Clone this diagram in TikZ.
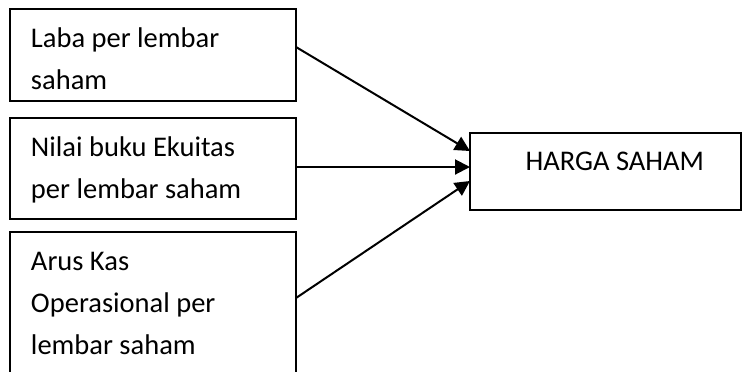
\documentclass[tikz,border=0pt]{standalone}
\usepackage{fontspec}
\setmainfont{Carlito}
\usetikzlibrary{positioning,arrows.meta}

\begin{document}
\begin{tikzpicture}[
  node distance=8.5pt,
  factor/.style={draw, line width=1pt, outer sep=0pt, inner xsep=10.5pt,
                 inner ysep=0pt, text width=122pt, align=flush left, text height=19pt,
                 font=\fontsize{14.25pt}{21pt}\selectfont},
  result/.style={factor, text width=98.5pt, inner xsep=18.5pt, align=flush right},
  arr/.style={-{Triangle[length=7.5pt, width=7.5pt]}, line width=1pt}
]
  \useasboundingbox (0,0) rectangle (372pt,-185.5pt);

  % the three factors, stacked on the left
  \node[factor, anchor=north west, text depth=27pt] (laba) at (5pt,-4.5pt)
    {Laba per lembar\\saham};
  \node[factor, text depth=31.5pt, below=of laba] (nilai)
    {Nilai buku Ekuitas\\per lembar saham};
  \node[factor, text depth=65pt, below=6.5pt of nilai] (arus)
    {Arus Kas\\Operasional per\\lembar saham};

  % dependent variable
  \node[result, text depth=19.5pt, right=87pt of nilai, yshift=-1.25pt] (harga)
    {HARGA SAHAM};

  \coordinate (in2) at ([yshift=2pt]harga.west);
  \draw[arr] ([yshift=4pt]laba.east) -- ([yshift=10pt]harga.west);
  \draw[arr] (nilai.east |- in2) -- (in2);
  \draw[arr] ([yshift=-33pt]arus.north east) -- ([yshift=-5pt]harga.west);
\end{tikzpicture}
\end{document}
